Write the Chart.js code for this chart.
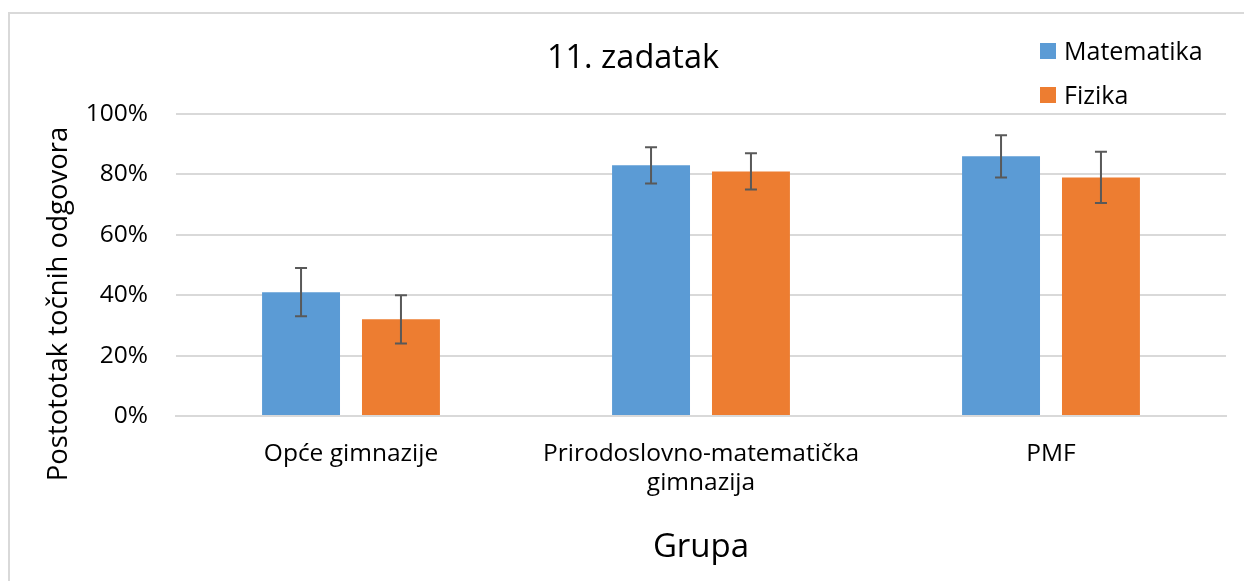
<!DOCTYPE html>
<html>
<head>
<meta charset="utf-8">
<script src="https://cdn.jsdelivr.net/npm/chart.js@4.4.1/dist/chart.umd.min.js"></script>
<style>
  html, body { margin: 0; padding: 0; background: #fff; }
  #wrap { position: relative; width: 1244px; height: 581px; overflow: hidden; }
  #frame { position: absolute; left: 8px; top: 12px; width: 1300px; height: 700px;
           border-left: 2px solid #d9d9d9; border-top: 2px solid #d9d9d9; }
  #chart { position: absolute; left: 0; top: 0; }
</style>
</head>
<body>
<div id="wrap">
  <div id="frame"></div>
  <canvas id="chart" width="1244" height="581"></canvas>
</div>
<script>
const groups = ['Opće gimnazije', ['Prirodoslovno-matematička', 'gimnazija'], 'PMF'];
const seriesNames = ['Matematika', 'Fizika'];
const matematika = [41, 83, 86];
const fizika = [32, 81, 79];
const matematikaErr = [8, 6, 7];
const fizikaErr = [8, 6, 8.5];
const yTicks = [0, 20, 40, 60, 80, 100];

const colors = ['#5b9bd5', '#ed7d31'];
const FONT = "'Open Sans', sans-serif";

// error bars + titles + legend drawn on top
const extras = {
  id: 'extras',
  afterDatasetsDraw(chart) {
    const ctx = chart.ctx;
    const y = chart.scales.y;
    chart.data.datasets.forEach((ds, i) => {
      chart.getDatasetMeta(i).data.forEach((bar, j) => {
        const v = ds.data[j], e = ds.errors[j];
        const top = y.getPixelForValue(v + e);
        const bot = y.getPixelForValue(v - e);
        ctx.save();
        ctx.strokeStyle = '#595959';
        ctx.lineWidth = 2;
        ctx.beginPath();
        ctx.moveTo(bar.x, top); ctx.lineTo(bar.x, bot);
        ctx.moveTo(bar.x - 6, top); ctx.lineTo(bar.x + 6, top);
        ctx.moveTo(bar.x - 6, bot); ctx.lineTo(bar.x + 6, bot);
        ctx.stroke();
        ctx.restore();
      });
    });
  },
  afterDraw(chart) {
    const ctx = chart.ctx;
    ctx.save();
    ctx.fillStyle = '#000';
    ctx.textBaseline = 'alphabetic';
    // chart title
    ctx.font = '32.5px ' + FONT;
    ctx.textAlign = 'center';
    ctx.fillText('11. zadatak', 633, 68);
    // y axis title
    ctx.save();
    ctx.translate(67, 304);
    ctx.rotate(-Math.PI / 2);
    ctx.font = '27.5px ' + FONT;
    ctx.fillText('Postototak točnih odgovora', 0, 0);
    ctx.restore();
    // legend
    ctx.font = '25px ' + FONT;
    ctx.textAlign = 'left';
    seriesNames.forEach((name, i) => {
      const ly = 43 + i * 44;
      ctx.fillStyle = colors[i];
      ctx.fillRect(1040, ly, 16, 16);
      ctx.fillStyle = '#000';
      ctx.fillText(name, 1064, ly + 17);
    });
    ctx.restore();
  }
};

new Chart(document.getElementById('chart'), {
  type: 'bar',
  data: {
    labels: groups,
    datasets: [
      { label: seriesNames[0], data: matematika, errors: matematikaErr, backgroundColor: colors[0] },
      { label: seriesNames[1], data: fizika, errors: fizikaErr, backgroundColor: colors[1] }
    ]
  },
  options: {
    responsive: false,
    animation: false,
    layout: { padding: { top: 114, right: 18, bottom: 0, left: 0 } },
    categoryPercentage: 0.571,
    barPercentage: 0.78,
    plugins: {
      legend: { display: false },
      tooltip: { enabled: false }
    },
    scales: {
      x: {
        grid: { display: false },
        border: { color: '#d9d9d9', width: 2 },
        ticks: { color: '#000', font: { family: FONT, size: 24.5 }, padding: 15, maxRotation: 0 },
        title: { display: true, text: 'Grupa', color: '#000', font: { family: FONT, size: 33 }, padding: { top: 0, bottom: 14 } },
        afterFit(scale) { scale.height = 165; }
      },
      y: {
        min: 0,
        max: 100,
        afterBuildTicks(scale) { scale.ticks = yTicks.map(v => ({ value: v })); },
        grid: { color: '#d9d9d9', lineWidth: 2, drawTicks: false },
        border: { display: false },
        ticks: { color: '#000', font: { family: FONT, size: 24.5 }, padding: 28, callback: v => v + '%' },
        afterFit(scale) { scale.width = 176; }
      }
    }
  },
  plugins: [extras]
});
</script>
</body>
</html>
